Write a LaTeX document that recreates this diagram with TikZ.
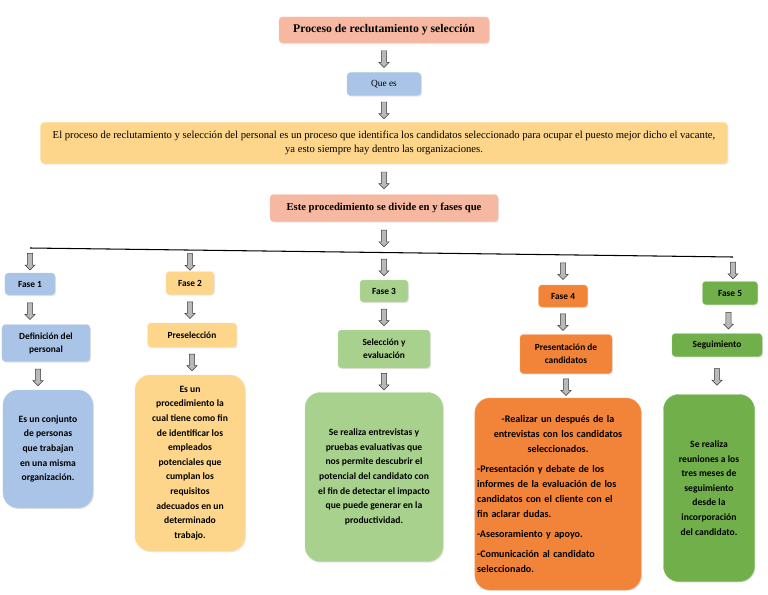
\documentclass[tikz,border=0pt]{standalone}
\usepackage{fontspec}
\setmainfont{Liberation Serif}
\newfontfamily\carlito{Carlito}
\usepackage{tikz}
\usetikzlibrary{shapes.arrows, shadows}
\usepackage{xcolor}
\definecolor{salmon}{HTML}{F6B8A1}
\definecolor{azul}{HTML}{A9C4E7}
\definecolor{crema}{HTML}{FDD68C}
\definecolor{verdeclaro}{HTML}{A9D18E}
\definecolor{naranja}{HTML}{F2843A}
\definecolor{verde}{HTML}{71AF4A}

\begin{document}
\begin{tikzpicture}[x=0.03cm, y=-0.03cm,
		box/.style={draw, rounded corners=3pt, align=center, inner sep=2pt, drop shadow={opacity=0.2, shadow xshift=0.8pt, shadow yshift=-1pt}},
		head/.style={box, font=\bfseries\fontsize{10}{12}\selectfont},
		fase/.style={box, font=\carlito\bfseries\fontsize{8}{11}\selectfont},
		info/.style={box, rounded corners=13pt, font=\carlito\bfseries\fontsize{8.2}{12.5}\selectfont},
		blk/.style={single arrow, draw=gray!45!black, fill=gray!55, inner xsep=0pt, inner ysep=2.1pt, minimum height=0.5cm, minimum width=0pt, single arrow head extend=2pt, rotate=-90}]
		\useasboundingbox (0,0) rectangle (768,594);
		\node[head, fill=salmon, draw=salmon!80!white, minimum width=6.3cm, minimum height=0.78cm] (tit) at (384,30) {Proceso de reclutamiento y selección};
		\node[box, fill=azul, draw=azul!80!white, font=\fontsize{8}{10}\selectfont, minimum width=2.22cm, minimum height=0.69cm] (que) at (384,84) {Que es};
		\node[box, fill=crema, draw=crema!80!white, font=\fontsize{9.1}{12}\selectfont, minimum width=20.6cm, minimum height=1.23cm] (def) at (384,143) {El proceso de reclutamiento y selección del personal es un proceso que identifica los candidatos seleccionado para ocupar el puesto mejor dicho el vacante,\\ ya esto siempre hay dentro las organizaciones.};
		\node[head, fill=salmon, draw=salmon!80!white, font=\bfseries\fontsize{9.1}{11}\selectfont, minimum width=6.84cm, minimum height=0.81cm] (div) at (384,208) {Este procedimiento se divide en y fases que};
		\coordinate (l1) at (30,248);
		\coordinate (l2) at (190,250);
		\coordinate (l3) at (384,252.5);
		\coordinate (l4) at (563,254.8);
		\coordinate (l5) at (733,257);
		\draw[line width=0.9pt] (l1) -- (l5);
		\node[fase, fill=azul, draw=azul!80!white, minimum width=1.5cm, minimum height=0.66cm] (f1) at (30,284) {Fase 1};
		\node[fase, fill=crema, draw=crema!80!white, minimum width=1.44cm, minimum height=0.69cm] (f2) at (190,283) {Fase 2};
		\node[fase, fill=verdeclaro, draw=verdeclaro!80!white, minimum width=1.44cm, minimum height=0.66cm] (f3) at (384,291) {Fase 3};
		\node[fase, fill=naranja, draw=naranja!80!white, minimum width=1.47cm, minimum height=0.66cm] (f4) at (563,296) {Fase 4};
		\node[fase, fill=verde, draw=verde!80!white, minimum width=1.65cm, minimum height=0.69cm] (f5) at (730,293) {Fase 5};
		\node[fase, fill=azul, draw=azul!80!white, minimum width=2.64cm, minimum height=1.11cm] (per) at (46,343) {Definición del\\ personal};
		\node[fase, fill=crema, draw=crema!80!white, minimum width=2.67cm, minimum height=0.72cm] (pre) at (192,335) {Preselección};
		\node[fase, fill=verdeclaro, draw=verdeclaro!80!white, minimum width=2.76cm, minimum height=1.14cm] (sel) at (384,349) {Selección y\\ evaluación};
		\node[fase, fill=naranja, draw=naranja!80!white, minimum width=2.76cm, minimum height=1.17cm] (pres) at (566,354) {Presentación de\\ candidatos};
		\node[fase, fill=verde, draw=verde!80!white, minimum width=2.7cm, minimum height=0.69cm] (seg) at (717,345) {Seguimiento};
		\node[info, fill=azul, draw=azul!80!white, minimum width=2.7cm, minimum height=3.54cm] (b1) at (48,449) {Es un conjunto\\ de personas\\ que trabajan\\ en una misma\\ organización.};
		\node[info, fill=crema, draw=crema!80!white, minimum width=3.3cm, minimum height=5.28cm] (b2) at (190,463) {Es un\\ procedimiento la\\ cual tiene como fin\\ de identificar los\\ empleados\\ potenciales que\\ cumplan los\\ requisitos\\ adecuados en un\\ determinado\\ trabajo.};
		\node[info, fill=verdeclaro, draw=verdeclaro!80!white, minimum width=4.14cm, minimum height=5.07cm] (b3) at (374,477) {Se realiza entrevistas y\\ pruebas evaluativas que\\ nos permite descubrir el\\ potencial del candidato con\\ el fin de detectar el impacto\\ que puede generar en la\\ productividad.};
		\node[info, fill=naranja, draw=naranja!80!white, font=\carlito\bfseries\fontsize{8.6}{12.8}\selectfont, text width=4.85cm, align=left, inner sep=2pt, minimum height=5.76cm] (b4) at (558,494) {\centering -Realizar un después de la\\ entrevistas con los candidatos\\ seleccionados.\par\raggedright\vspace{4pt}-Presentación y debate de los\\ informes de la evaluación de los\\ candidatos con el cliente con el\\ fin aclarar dudas.\par\vspace{4pt}-Asesoramiento y apoyo.\par\vspace{4pt}-Comunicación al candidato\\ seleccionado.};
		\node[info, fill=verde, draw=verde!80!white, minimum width=2.73cm, minimum height=5.61cm] (b5) at (709,488) {Se realiza\\ reuniones a los\\ tres meses de\\ seguimiento\\ desde la\\ incorporación\\ del candidato.};
		\path (tit) -- node[blk] {} (que);
		\path (que) -- node[blk] {} (def);
		\path (def) -- node[blk] {} (div);
		\path (div) -- node[blk] {} (l3);
		\path (l1) -- node[blk] {} (l1 |- f1.north);
		\path (l2) -- node[blk] {} (f2);
		\path (l3) -- node[blk] {} (f3);
		\path (l4) -- node[blk] {} (f4);
		\path (l5) -- node[blk] {} (l5 |- f5.north);
		\path (f1.south) -- node[blk] {} (f1.south |- per.north);
		\path (f2) -- node[blk] {} (f2 |- pre.north);
		\path (f3) -- node[blk] {} (sel);
		\path (f4) -- node[blk] {} (f4 |- pres.north);
		\path (f5.south) -- node[blk] {} (727,334);
		\path (38,362) -- node[blk] {} (38,390);
		\path (pre) -- node[blk] {} (pre.south |- b2.north);
		\path (sel.south) -- node[blk] {} (sel.south |- b3.north);
		\path (pres.south) -- node[blk] {} (pres.south |- b4.north);
		\path (seg.south) -- node[blk] {} (seg.south |- b5.north);
	\end{tikzpicture}
\end{document}
